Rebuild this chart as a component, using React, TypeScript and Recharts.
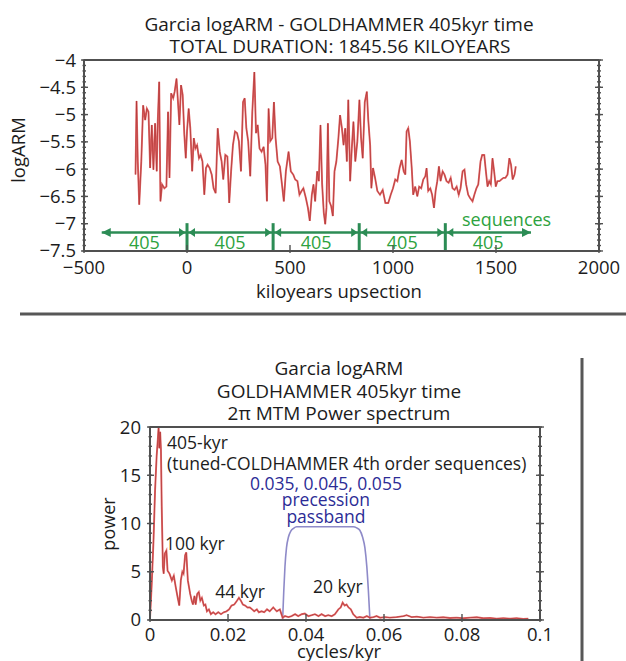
import React from 'react'
import { LineChart, Line, XAxis, YAxis, ReferenceLine, ReferenceDot } from 'recharts'

const FONT = '"Open Sans", "Noto Sans", sans-serif'
const INK = '#1c1c1c'
const FRAME = '#505050'
const RED_WIDE = '#e36a6a'
const RED_CORE = '#ad3434'
const SEQ_LINE = '#2c8c55'
const SEQ_TEXT = '#2da23e'
const BAND_LINE = '#8e8ac8'
const BAND_TEXT = '#2c2c96'

// logARM record on the 405-kyr tuned time scale (kyr upsection)
const ageKyr = [
  -250, -245, -239, -232, -222, -213, -203, -195, -187, -179,
  -171, -163, -155, -147, -142, -135, -129, -121, -110, -100,
  -92, -85, -77, -67, -60, -51, -45, -37, -29, -21,
  -13, -6, 0, 8, 16, 25, 33, 41, 49, 58,
  66, 75, 84, 92, 100, 110, 120, 129, 139, 149,
  159, 168, 176, 186, 196, 205, 214, 223, 233, 243,
  252, 262, 272, 280, 288, 297, 307, 317, 327, 335,
  343, 352, 362, 372, 381, 388, 396, 404, 414, 422,
  430, 440, 451, 461, 470, 480, 493, 504, 516, 525,
  536, 546, 556, 565, 577, 587, 596, 606, 614, 622,
  632, 640, 648, 656, 664, 671, 677, 684, 691, 700,
  708, 716, 725, 735, 743, 752, 760, 768, 776, 783,
  792, 800, 808, 817, 827, 837, 845, 853, 863, 873,
  880, 889, 895, 903, 913, 924, 937, 950, 963, 977,
  989, 1000, 1011, 1021, 1032, 1042, 1052, 1060, 1066, 1074,
  1082, 1091, 1098, 1108, 1118, 1127, 1137, 1147, 1157, 1163,
  1171, 1181, 1190, 1199, 1207, 1215, 1223, 1231, 1241, 1250,
  1260, 1270, 1280, 1289, 1299, 1309, 1319, 1328, 1338, 1347,
  1355, 1365, 1374, 1386, 1395, 1405, 1414, 1425, 1433, 1443,
  1451, 1459, 1467, 1475, 1483, 1491, 1499, 1507, 1517, 1526,
  1536, 1546, 1556, 1565, 1573, 1581, 1590, 1596,
]
const logArm = [
  -6.1, -4.75, -5.86, -6.65, -5.86, -4.83, -5.1, -4.89, -4.95, -5.98,
  -5.19, -6.01, -5.16, -6.04, -5.13, -4.4, -6.59, -6.28, -6.35, -6.32,
  -4.95, -6.16, -4.61, -4.7, -4.58, -4.34, -4.7, -5.19, -4.46, -4.64,
  -5.37, -5.8, -5.31, -4.89, -5.25, -6.04, -5.43, -5.62, -5.56, -5.8,
  -5.74, -5.86, -6.47, -5.98, -5.92, -5.98, -6.1, -6.35, -6.44, -5.25,
  -5.68, -5.86, -6.19, -5.74, -5.77, -6.62, -6.04, -5.56, -5.31, -5.34,
  -5.49, -6.04, -4.77, -4.7, -5.25, -5.49, -6.13, -4.95, -4.22, -5.34,
  -5.19, -5.62, -5.68, -5.59, -5.92, -6.59, -4.89, -5.49, -5.43, -4.77,
  -5.43, -5.86, -5.95, -6.28, -6.59, -6.04, -5.68, -6.04, -6.1, -6.19,
  -6.22, -6.47, -6.4, -6.35, -6.53, -6.71, -6.95, -6.47, -6.28, -6.59,
  -6.04, -6.22, -5.19, -6.28, -6.8, -7.01, -6.71, -5.16, -6.59, -6.68,
  -6.86, -6.04, -5.86, -5.43, -5.01, -5.25, -5.56, -5.25, -5.86, -4.73,
  -6.22, -5.62, -5.13, -5.86, -5.49, -4.73, -5.43, -5.8, -4.77, -4.58,
  -5.1, -5.56, -6.35, -5.98, -6.16, -6.4, -6.47, -6.38, -6.62, -6.62,
  -6.47, -6.35, -6.19, -6.22, -5.98, -5.83, -6.04, -6.1, -5.31, -5.25,
  -5.49, -5.98, -6.47, -6.32, -6.5, -6.32, -6.35, -6.19, -6.13, -5.98,
  -6.4, -6.35, -6.47, -6.71, -6.4, -6.22, -5.95, -6.22, -6.04, -6.1,
  -6.22, -6.25, -6.16, -6.35, -6.38, -6.32, -6.47, -6.35, -6.04, -6.01,
  -6.28, -6.47, -6.53, -6.59, -6.47, -6.35, -6.28, -5.86, -5.74, -5.74,
  -6.04, -6.32, -6.22, -6.28, -5.8, -6.04, -6.32, -6.22, -6.22, -6.19,
  -6.16, -6.16, -6.1, -5.8, -5.92, -6.19, -6.1, -5.95,
]

// 405-kyr sequence boundaries and the span of the sequence arrow
const sequenceBounds = [0, 418, 836, 1254]
const sequenceEnds = [-414, 1670]
const sequenceLevel = -7.16
const sequenceTop = -6.99
const sequenceDuration = '405'

const ageTicks = [-500, 0, 500, 1000, 1500, 2000]
const armTicks = [-7.5, -7, -6.5, -6, -5.5, -5, -4.5, -4]

// 2π MTM power spectrum
const freq = [
  0, 0.0004, 0.0009, 0.0013, 0.0017, 0.002, 0.0022, 0.0024, 0.0026, 0.0028,
  0.003, 0.0033, 0.0035, 0.0038, 0.0042, 0.0045, 0.005, 0.0056, 0.0061, 0.0066,
  0.0071, 0.0075, 0.0079, 0.0083, 0.0086, 0.009, 0.0093, 0.0097, 0.01, 0.0103,
  0.0107, 0.011, 0.0114, 0.0117, 0.0121, 0.0125, 0.0129, 0.0133, 0.0138, 0.0142,
  0.0146, 0.0151, 0.0156, 0.0162, 0.0168, 0.0175, 0.0182, 0.0189, 0.0196, 0.0203,
  0.0209, 0.0216, 0.0223, 0.0228, 0.0233, 0.0238, 0.0244, 0.025, 0.0256, 0.0262,
  0.0267, 0.0274, 0.0279, 0.0286, 0.0293, 0.03, 0.0307, 0.0316, 0.0325, 0.0333,
  0.034, 0.0346, 0.0355, 0.0363, 0.0372, 0.038, 0.0389, 0.0397, 0.0406, 0.0415,
  0.0423, 0.0432, 0.044, 0.0449, 0.0457, 0.0466, 0.0474, 0.0483, 0.0489, 0.0494,
  0.0499, 0.0504, 0.0509, 0.0515, 0.0521, 0.053, 0.0538, 0.0547, 0.0556, 0.0564,
  0.0573, 0.0581, 0.059, 0.0603, 0.0615, 0.0632, 0.065, 0.0658, 0.0671, 0.0684,
  0.0701, 0.0718, 0.0735, 0.0752, 0.0769, 0.0786, 0.0803, 0.0821, 0.0838, 0.0855,
  0.0872, 0.0889, 0.0906, 0.0923, 0.094, 0.0957, 0.097,
]
const power = [
  0.2, 3.4, 8.3, 13.5, 17.0, 18.7, 20.0, 17.8, 19.5, 17.7,
  11.8, 5.5, 4.8, 6.9, 7.2, 5.1, 4.8, 4.1, 4.6, 3.4,
  2.3, 1.5, 4.1, 5.0, 4.8, 6.7, 7.0, 4.1, 3.4, 2.7,
  2.0, 1.6, 2.5, 1.6, 2.7, 2.9, 2.0, 2.3, 1.5, 1.6,
  0.9, 1.1, 0.6, 0.8, 0.6, 0.8, 0.6, 0.8, 0.9, 1.1,
  1.5, 1.6, 2.0, 2.3, 2.0, 1.6, 1.5, 1.3, 1.3, 1.1,
  0.9, 1.1, 0.8, 0.9, 0.8, 1.1, 0.9, 1.3, 0.9, 1.1,
  0.24, 0.4, 0.3, 0.4, 0.6, 0.4, 0.6, 0.66, 0.4, 0.5,
  0.6, 0.4, 0.6, 0.4, 0.5, 0.4, 0.6, 1.1, 1.3, 1.8,
  1.5, 1.6, 1.3, 1.1, 0.6, 0.24, 0.3, 0.24, 0.4, 0.24,
  0.3, 0.4, 0.24, 0.3, 0.24, 0.3, 0.4, 0.5, 0.3, 0.35,
  0.24, 0.3, 0.24, 0.28, 0.2, 0.24, 0.18, 0.24, 0.28, 0.18,
  0.2, 0.14, 0.18, 0.14, 0.18, 0.1, 0.14,
]

// precession bandpass response
const bandFreq = [0.034, 0.0343, 0.0346, 0.035, 0.0355, 0.0361, 0.0368, 0.0376, 0.0521, 0.053, 0.0538, 0.0545, 0.0551, 0.0556, 0.056, 0.0564]
const bandGain = [0, 3.0, 5.5, 7.5, 8.6, 9.2, 9.5, 9.66, 9.66, 9.55, 9.3, 8.6, 7.5, 5.5, 3.0, 0]

const freqTicks = [0, 0.02, 0.04, 0.06, 0.08, 0.1]
const powerTicks = [0, 5, 10, 15, 20]

const spectrumNotes = [
  { text: '405-kyr', f: 0.00436, p: 17.7, color: INK, anchor: 'start' },
  { text: '(tuned-COLDHAMMER 4th order sequences)', f: 0.00436, p: 15.5, color: INK, anchor: 'start' },
  { text: '0.035, 0.045, 0.055', f: 0.0451, p: 13.5, color: BAND_TEXT, anchor: 'middle' },
  { text: 'precession', f: 0.0451, p: 11.8, color: BAND_TEXT, anchor: 'middle' },
  { text: 'passband', f: 0.0451, p: 10.1, color: BAND_TEXT, anchor: 'middle' },
  { text: '100 kyr', f: 0.00385, p: 7.3, color: INK, anchor: 'start' },
  { text: '44 kyr', f: 0.0167, p: 2.3, color: INK, anchor: 'start' },
  { text: '20 kyr', f: 0.0418, p: 2.75, color: INK, anchor: 'start' },
]

const steps = (from: number, to: number, step: number) => {
  const out: number[] = []
  for (let v = from; v <= to + step / 2; v += step) out.push(Math.round(v * 1e6) / 1e6)
  return out
}

const minus = (v: number) => (v < 0 ? '\u2212' + Math.abs(v) : String(v))

type Side = 'bottom' | 'top' | 'left' | 'right'

// tick line drawn across the frame, with an optional label outside it
function mark(side: Side, inner: number, outer: number, format?: (v: number) => string, gap = 0) {
  return (p: any) => {
    const x = p.x
    const y = p.y
    const v = p.payload ? p.payload.value : 0
    let c
    if (side === 'bottom') c = { x1: x, x2: x, y1: y - inner, y2: y + outer }
    else if (side === 'top') c = { x1: x, x2: x, y1: y + inner, y2: y - outer }
    else if (side === 'left') c = { x1: x + inner, x2: x - outer, y1: y, y2: y }
    else c = { x1: x - inner, x2: x + outer, y1: y, y2: y }
    return (
      <g>
        <line {...c} stroke={FRAME} strokeWidth={1.4} />
        {format && side === 'bottom' && (
          <text x={x} y={y + gap} textAnchor="middle" fontSize={18.5} fontFamily={FONT} fill={INK}>
            {format(v)}
          </text>
        )}
        {format && side === 'left' && (
          <text x={x - gap} y={y + 6.5} textAnchor="end" fontSize={18.5} fontFamily={FONT} fill={INK}>
            {format(v)}
          </text>
        )}
      </g>
    )
  }
}

type FrameSpec = {
  id: string
  xDomain: [number, number]
  yDomain: [number, number]
  xMajor: number[]
  xMinor: number[]
  yMajor: number[]
  yMinor: number[]
  xFormat: (v: number) => string
  yFormat: (v: number) => string
  xGap: number
  yGap: number
}

// axes have to be a hair thick or they are skipped; the margins hold the labels
const HAIR = 0.01

// boxed frame: labelled bottom/left axes plus mirrored top/right axes, each with minor ticks
function frameAxes(f: FrameSpec) {
  const shared = { type: 'number' as const, allowDataOverflow: true, interval: 0 as const, tickSize: 0, tickMargin: 0, tickLine: false }
  const edge = { stroke: FRAME, strokeWidth: 2 }
  const xs = { ...shared, domain: f.xDomain, height: HAIR }
  const ys = { ...shared, domain: f.yDomain, width: HAIR }
  return [
    <XAxis key="xb" xAxisId={f.id} dataKey="x" orientation="bottom" ticks={f.xMajor} axisLine={edge} tick={mark('bottom', 6, 2, f.xFormat, f.xGap)} {...xs} />,
    <XAxis key="xbm" xAxisId={f.id + 'bm'} orientation="bottom" ticks={f.xMinor} axisLine={false} tick={mark('bottom', 3, 0)} {...xs} />,
    <XAxis key="xt" xAxisId={f.id + 't'} orientation="top" ticks={f.xMajor} axisLine={edge} tick={mark('top', 6, 2)} {...xs} />,
    <XAxis key="xtm" xAxisId={f.id + 'tm'} orientation="top" ticks={f.xMinor} axisLine={false} tick={mark('top', 3, 0)} {...xs} />,
    <YAxis key="yl" yAxisId={f.id} orientation="left" ticks={f.yMajor} axisLine={edge} tick={mark('left', 4, 3, f.yFormat, f.yGap)} {...ys} />,
    <YAxis key="ylm" yAxisId={f.id + 'lm'} orientation="left" ticks={f.yMinor} axisLine={false} tick={mark('left', 2, 1.5)} {...ys} />,
    <YAxis key="yr" yAxisId={f.id + 'r'} orientation="right" ticks={f.yMajor} axisLine={edge} tick={mark('right', 4, 4)} {...ys} />,
    <YAxis key="yrm" yAxisId={f.id + 'rm'} orientation="right" ticks={f.yMinor} axisLine={false} tick={mark('right', 2, 2)} {...ys} />,
  ]
}

const note = (text: string, color: string, size: number, anchor: string) => (p: any) => (
  <text x={p.cx} y={p.cy} fill={color} fontSize={size} fontFamily={FONT} textAnchor={anchor}>
    {text}
  </text>
)

const arrowHead = (dir: number) => (p: any) => (
  <polygon
    points={`${p.cx},${p.cy} ${p.cx - dir * 9},${p.cy - 4.5} ${p.cx - dir * 9},${p.cy + 4.5}`}
    fill={SEQ_LINE}
  />
)

const boundaryMark = (p: any) => (
  <g fill={SEQ_LINE}>
    <polygon points={`${p.cx - 1.5},${p.cy} ${p.cx - 8},${p.cy - 4.5} ${p.cx - 8},${p.cy + 4.5}`} />
    <polygon points={`${p.cx + 1.5},${p.cy} ${p.cx + 8},${p.cy - 4.5} ${p.cx + 8},${p.cy + 4.5}`} />
  </g>
)

function ArmChart() {
  const rows = ageKyr.map((x, i) => ({ x, y: logArm[i] }))
  const stops = [sequenceEnds[0], ...sequenceBounds, sequenceEnds[1]]
  const ids = { xAxisId: 'arm', yAxisId: 'arm' }
  return (
    <LineChart width={626} height={310} margin={{ top: 60, right: 27, bottom: 59, left: 84 }}>
      {frameAxes({
        id: 'arm',
        xDomain: [-500, 2000],
        yDomain: [-7.5, -4],
        xMajor: ageTicks,
        xMinor: steps(-500, 2000, 100),
        yMajor: armTicks,
        yMinor: steps(-7.5, -4, 0.1),
        xFormat: minus,
        yFormat: minus,
        xGap: 23,
        yGap: 8,
      })}
      <Line {...ids} data={rows} dataKey="y" type="linear" stroke={RED_WIDE} strokeWidth={1.9} dot={false} activeDot={false} isAnimationActive={false} />
      <Line {...ids} data={rows} dataKey="y" type="linear" stroke={RED_CORE} strokeWidth={0.7} dot={false} activeDot={false} isAnimationActive={false} />
      <ReferenceLine
        {...ids}
        segment={[{ x: sequenceEnds[0], y: sequenceLevel }, { x: sequenceEnds[1], y: sequenceLevel }]}
        stroke={SEQ_LINE}
        strokeWidth={2.5}
      />
      {sequenceBounds.map((b) => (
        <ReferenceLine key={'b' + b} {...ids} segment={[{ x: b, y: -7.5 }, { x: b, y: sequenceTop }]} stroke={SEQ_LINE} strokeWidth={3} />
      ))}
      {sequenceBounds.map((b) => (
        <ReferenceDot key={'m' + b} {...ids} x={b} y={sequenceLevel} shape={boundaryMark} />
      ))}
      <ReferenceDot {...ids} x={sequenceEnds[0]} y={sequenceLevel} shape={arrowHead(-1)} />
      <ReferenceDot {...ids} x={sequenceEnds[1]} y={sequenceLevel} shape={arrowHead(1)} />
      {stops.slice(1).map((b, i) => (
        <ReferenceDot key={'l' + i} {...ids} x={(stops[i] + b) / 2} y={-7.46} shape={note(sequenceDuration, SEQ_TEXT, 18, 'middle')} />
      ))}
      <ReferenceDot {...ids} x={1335} y={-7.05} shape={note('sequences', SEQ_TEXT, 18, 'start')} />
    </LineChart>
  )
}

function SpectrumChart() {
  const rows = freq.map((x, i) => ({ x, y: power[i] }))
  const band = bandFreq.map((x, i) => ({ x, y: bandGain[i] }))
  const ids = { xAxisId: 'mtm', yAxisId: 'mtm' }
  return (
    <LineChart width={626} height={341} margin={{ top: 107, right: 86, bottom: 41, left: 150 }}>
      {frameAxes({
        id: 'mtm',
        xDomain: [0, 0.1],
        yDomain: [0, 20],
        xMajor: freqTicks,
        xMinor: steps(0, 0.1, 0.005),
        yMajor: powerTicks,
        yMinor: steps(0, 20, 1),
        xFormat: (v) => String(v),
        yFormat: (v) => String(v),
        xGap: 21,
        yGap: 9,
      })}
      <Line {...ids} data={band} dataKey="y" type="monotone" stroke={BAND_LINE} strokeWidth={1.6} dot={false} activeDot={false} isAnimationActive={false} />
      <Line {...ids} data={rows} dataKey="y" type="linear" stroke={RED_WIDE} strokeWidth={1.9} dot={false} activeDot={false} isAnimationActive={false} />
      <Line {...ids} data={rows} dataKey="y" type="linear" stroke={RED_CORE} strokeWidth={0.7} dot={false} activeDot={false} isAnimationActive={false} />
      {spectrumNotes.map((n) => (
        <ReferenceDot key={n.text} {...ids} x={n.f} y={n.p} shape={note(n.text, n.color, 17.5, n.anchor)} />
      ))}
    </LineChart>
  )
}

export default function App() {
  const title = { fontFamily: FONT, fontSize: 19, fill: INK, textAnchor: 'middle' as const }
  const axisTitle = { ...title, fontSize: 18.5 }
  return (
    <div style={{ position: 'absolute', left: 0, top: 0, width: 626, height: 661, background: '#fff', overflow: 'hidden' }}>
      <div style={{ position: 'absolute', left: 0, top: 0 }}>
        <ArmChart />
      </div>
      <div style={{ position: 'absolute', left: 0, top: 320 }}>
        <SpectrumChart />
      </div>
      <svg width={626} height={661} style={{ position: 'absolute', left: 0, top: 0, pointerEvents: 'none' }}>
        <text x={339} y={30.5} {...title}>Garcia logARM - GOLDHAMMER 405kyr time</text>
        <text x={340} y={52.5} {...title}>TOTAL DURATION: 1845.56 KILOYEARS</text>
        <text x={339} y={298} {...axisTitle}>kiloyears upsection</text>
        <text transform="translate(25,150) rotate(-90)" {...axisTitle}>logARM</text>
        <line x1={20} x2={626} y1={314} y2={314} stroke="#575757" strokeWidth={3} />
        <line x1={582} x2={582} y1={358} y2={661} stroke="#575757" strokeWidth={3} />
        <text x={339} y={375} {...title}>Garcia logARM</text>
        <text x={339} y={398} {...title}>GOLDHAMMER 405kyr time</text>
        <text x={339} y={420} {...title}>2π MTM Power spectrum</text>
        <text transform="translate(115,524) rotate(-90)" {...axisTitle} fontSize={18}>power</text>
        <text x={339} y={658} {...axisTitle}>cycles/kyr</text>
      </svg>
    </div>
  )
}
